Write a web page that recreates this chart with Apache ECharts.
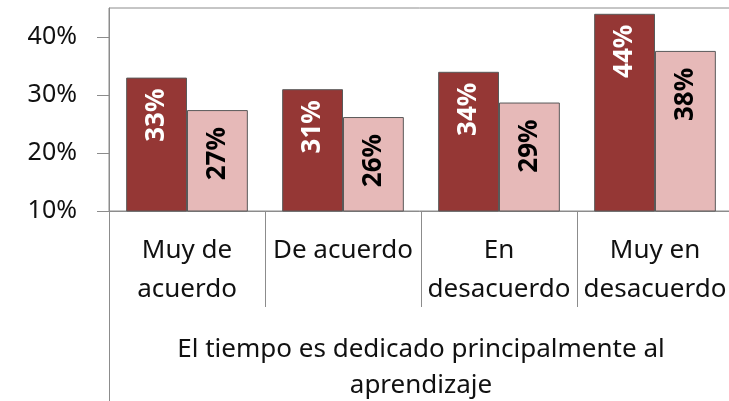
<!DOCTYPE html>
<html style="height: 100%">
  <head>
    <meta charset="UTF-8">
  </head>
  <body style="height: 100%; margin: 0; background: #fff">
    <div id="container" style="width: 729px; height: 401px"></div>
    <script src="https://cdn.jsdelivr.net/npm/echarts@6.0.0/dist/echarts.min.js"></script>
    <script>
    var categories = ['Muy de\nacuerdo', 'De acuerdo', 'En\ndesacuerdo', 'Muy en\ndesacuerdo'];
    var serieA = [33, 31, 34, 44];
    var serieB = [27.4, 26.2, 28.7, 37.6];
    var yTicks = [10, 20, 30, 40];
    var axisTitle = 'El tiempo es dedicado principalmente al\naprendizaje';

    var font = 'Noto Sans';
    var myChart = echarts.init(document.getElementById('container'), null, { renderer: 'canvas' });

    var option = {
      animation: false,
      textStyle: { fontFamily: font },
      grid: {
        left: 109, top: 8, right: -4, bottom: 190,
        outerBoundsMode: 'none',
        containLabel: false,
        show: true, borderColor: '#8c8c8c', borderWidth: 1
      },
      xAxis: {
        type: 'category',
        data: categories,
        axisLine: { lineStyle: { color: '#8c8c8c' } },
        axisTick: { show: true, interval: 0, length: 96, lineStyle: { color: '#8c8c8c' } },
        axisLabel: {
          interval: 0, margin: 20, color: '#111', fontSize: 26, lineHeight: 39,
          fontFamily: font, verticalAlign: 'top'
        },
        name: axisTitle,
        nameLocation: 'middle',
        nameGap: 121,
        nameTextStyle: { fontSize: 26, lineHeight: 36, color: '#111', fontFamily: font, verticalAlign: 'top' }
      },
      yAxis: {
        type: 'value',
        min: 10, max: 45, interval: 10,
        splitLine: { show: false },
        axisLine: { show: true, lineStyle: { color: '#8c8c8c' } },
        axisTick: { show: true, length: 12, customValues: yTicks, lineStyle: { color: '#8c8c8c' } },
        axisLabel: {
          customValues: yTicks, margin: 32, fontSize: 25, color: '#111', fontFamily: font,
          formatter: function (v) { return v + '%'; }
        }
      },
      series: [
        {
          name: 'A',
          type: 'bar',
          data: serieA,
          barGap: '0%',
          barCategoryGap: '22%',
          itemStyle: { color: '#953735', borderColor: '#595959', borderWidth: 1 },
          label: {
            show: true, position: 'insideTop', distance: 11, rotate: 90,
            align: 'right', verticalAlign: 'middle',
            color: '#fff', fontWeight: 'bold', fontSize: 26, fontFamily: font,
            formatter: function (p) { return Math.round(p.value) + '%'; }
          }
        },
        {
          name: 'B',
          type: 'bar',
          data: serieB,
          itemStyle: { color: '#e6b9b8', borderColor: '#595959', borderWidth: 1 },
          label: {
            show: true, position: 'insideTop', distance: 17, rotate: 90,
            align: 'right', verticalAlign: 'middle',
            color: '#000', fontWeight: 'bold', fontSize: 26, fontFamily: font,
            formatter: function (p) { return Math.round(p.value) + '%'; }
          }
        }
      ],
      graphic: [
        {
          type: 'line', z: 10,
          shape: { x1: 109.5, y1: 211, x2: 109.5, y2: 401 },
          style: { stroke: '#8c8c8c', lineWidth: 1 }
        }
      ]
    };

    myChart.setOption(option);
    window.addEventListener('resize', myChart.resize);
    </script>
  </body>
</html>
